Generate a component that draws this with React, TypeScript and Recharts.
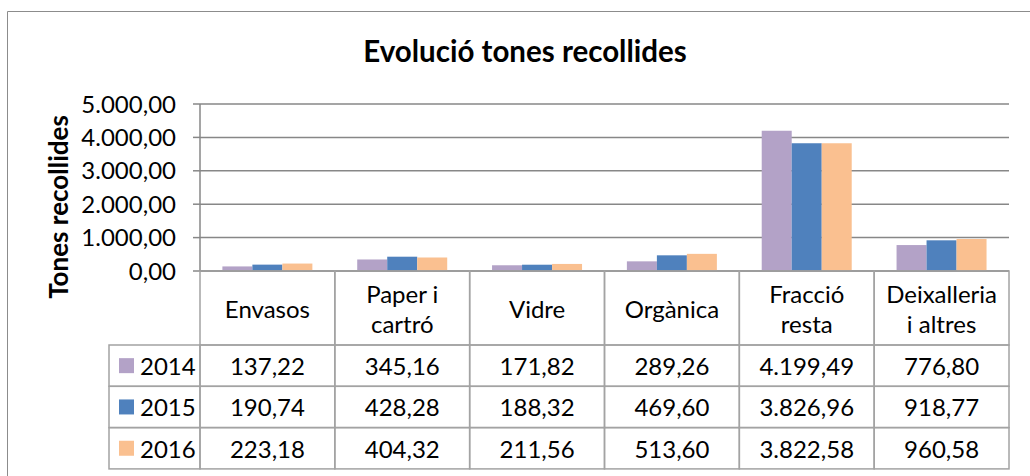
import { BarChart, Bar, XAxis, YAxis, CartesianGrid } from 'recharts';

const categories = ['Envasos', 'Paper i\ncartró', 'Vidre', 'Orgànica', 'Fracció\nresta', 'Deixalleria\ni altres'];
const years = ['2014', '2015', '2016'];
const values2014 = [137.22, 345.16, 171.82, 289.26, 4199.49, 776.8];
const values2015 = [190.74, 428.28, 188.32, 469.6, 3826.96, 918.77];
const values2016 = [223.18, 404.32, 211.56, 513.6, 3822.58, 960.58];
const yTicks = [0, 1000, 2000, 3000, 4000, 5000];
const colors = ['#B3A2C7', '#4F81BD', '#FAC090'];

const series = [values2014, values2015, values2016];
const data = categories.map((name, i) => ({
  name,
  y2014: values2014[i],
  y2015: values2015[i],
  y2016: values2016[i],
}));

const FONT = 'Lato, "Open Sans", sans-serif';
const GRID = '#878787';
const TABLE = '#a3a3a3';
const TEXT_SIZE = 24;
const HEADER_H = 74;
const ROW_H = 41.3;
const LEGEND_W = 91;

function fmt(v: number) {
  const [i, d] = v.toFixed(2).split('.');
  return i.replace(/\B(?=(\d{3})+(?!\d))/g, '.') + ',' + d;
}

const TableTick = (props: any) => {
  const { x, y, payload, index } = props;
  const band = props.width ? props.width / categories.length : 134.8;
  const left = x - band / 2;
  const lines = String(payload.value).split('\n');
  const lineH = 30;
  const headMid = y + HEADER_H / 2;
  return (
    <g>
      <rect x={left} y={y} width={band} height={HEADER_H} fill="none" stroke={TABLE} strokeWidth={1.5} />
      {lines.map((l, k) => (
        <text
          key={k}
          x={x}
          y={headMid + (k - (lines.length - 1) / 2) * lineH}
          textAnchor="middle"
          dominantBaseline="central"
          fontSize={TEXT_SIZE}
          fill="#000"
          fontFamily={FONT}
        >
          {l}
        </text>
      ))}
      {series.map((s, r) => {
        const ry = y + HEADER_H + r * ROW_H;
        return (
          <g key={r}>
            <rect x={left} y={ry} width={band} height={ROW_H} fill="none" stroke={TABLE} strokeWidth={1.5} />
            <text
              x={x}
              y={ry + ROW_H / 2}
              textAnchor="middle"
              dominantBaseline="central"
              fontSize={TEXT_SIZE}
              fill="#000"
              fontFamily={FONT}
            >
              {fmt(s[index])}
            </text>
            {index === 0 && (
              <g>
                <rect x={left - LEGEND_W} y={ry} width={LEGEND_W} height={ROW_H} fill="none" stroke={TABLE} strokeWidth={1.5} />
                <rect x={left - LEGEND_W + 10} y={ry + ROW_H / 2 - 7.5} width={15} height={15} fill={colors[r]} />
                <text
                  x={left - LEGEND_W + 31}
                  y={ry + ROW_H / 2}
                  dominantBaseline="central"
                  fontSize={TEXT_SIZE}
                  fill="#000"
                  fontFamily={FONT}
                >
                  {years[r]}
                </text>
              </g>
            )}
          </g>
        );
      })}
    </g>
  );
};

const YLabel = () => (
  <text
    x={68}
    y={207}
    transform="rotate(-90, 68, 207)"
    textAnchor="middle"
    fontSize={26}
    fontWeight="bold"
    fill="#000"
    fontFamily={FONT}
  >
    Tones recollides
  </text>
);

export default function App() {
  return (
    <div style={{ position: 'absolute', left: 0, top: 0, width: 1030, height: 476, background: '#fff' }}>
      <svg width={1030} height={476} style={{ position: 'absolute', left: 0, top: 0 }}>
        <line x1={7.5} y1={11.5} x2={1030} y2={11.5} stroke="#8c8c8c" />
        <line x1={7.5} y1={11.5} x2={7.5} y2={476} stroke="#8c8c8c" />
        <text x={525} y={62} textAnchor="middle" fontSize={29.5} fontWeight="bold" fill="#000" fontFamily={FONT}>
          Evolució tones recollides
        </text>
      </svg>
      <div style={{ position: 'absolute', left: 0, top: 0 }}>
        <BarChart
          width={1030}
          height={476}
          data={data}
          margin={{ top: 104, right: 21, left: 0, bottom: 0 }}
          barCategoryGap="16.6%"
          barGap={0}
          style={{ fontFamily: FONT }}
        >
          <CartesianGrid vertical={false} stroke={GRID} strokeWidth={1.5} />
          <XAxis
            dataKey="name"
            interval={0}
            height={205}
            tickSize={0}
            tickMargin={0}
            axisLine={{ stroke: GRID, strokeWidth: 1.5 }}
            tick={<TableTick />}
          />
          <YAxis
            domain={[0, 5000]}
            ticks={yTicks}
            width={200}
            tickFormatter={fmt}
            tick={{ fill: '#000', fontSize: TEXT_SIZE, fontFamily: FONT }}
            tickSize={7}
            tickMargin={17}
            tickLine={{ stroke: GRID, strokeWidth: 1.5 }}
            axisLine={{ stroke: GRID, strokeWidth: 1.5 }}
            label={{ content: <YLabel /> }}
          />
          <Bar dataKey="y2014" fill={colors[0]} isAnimationActive={false} />
          <Bar dataKey="y2015" fill={colors[1]} isAnimationActive={false} />
          <Bar dataKey="y2016" fill={colors[2]} isAnimationActive={false} />
        </BarChart>
      </div>
    </div>
  );
}
